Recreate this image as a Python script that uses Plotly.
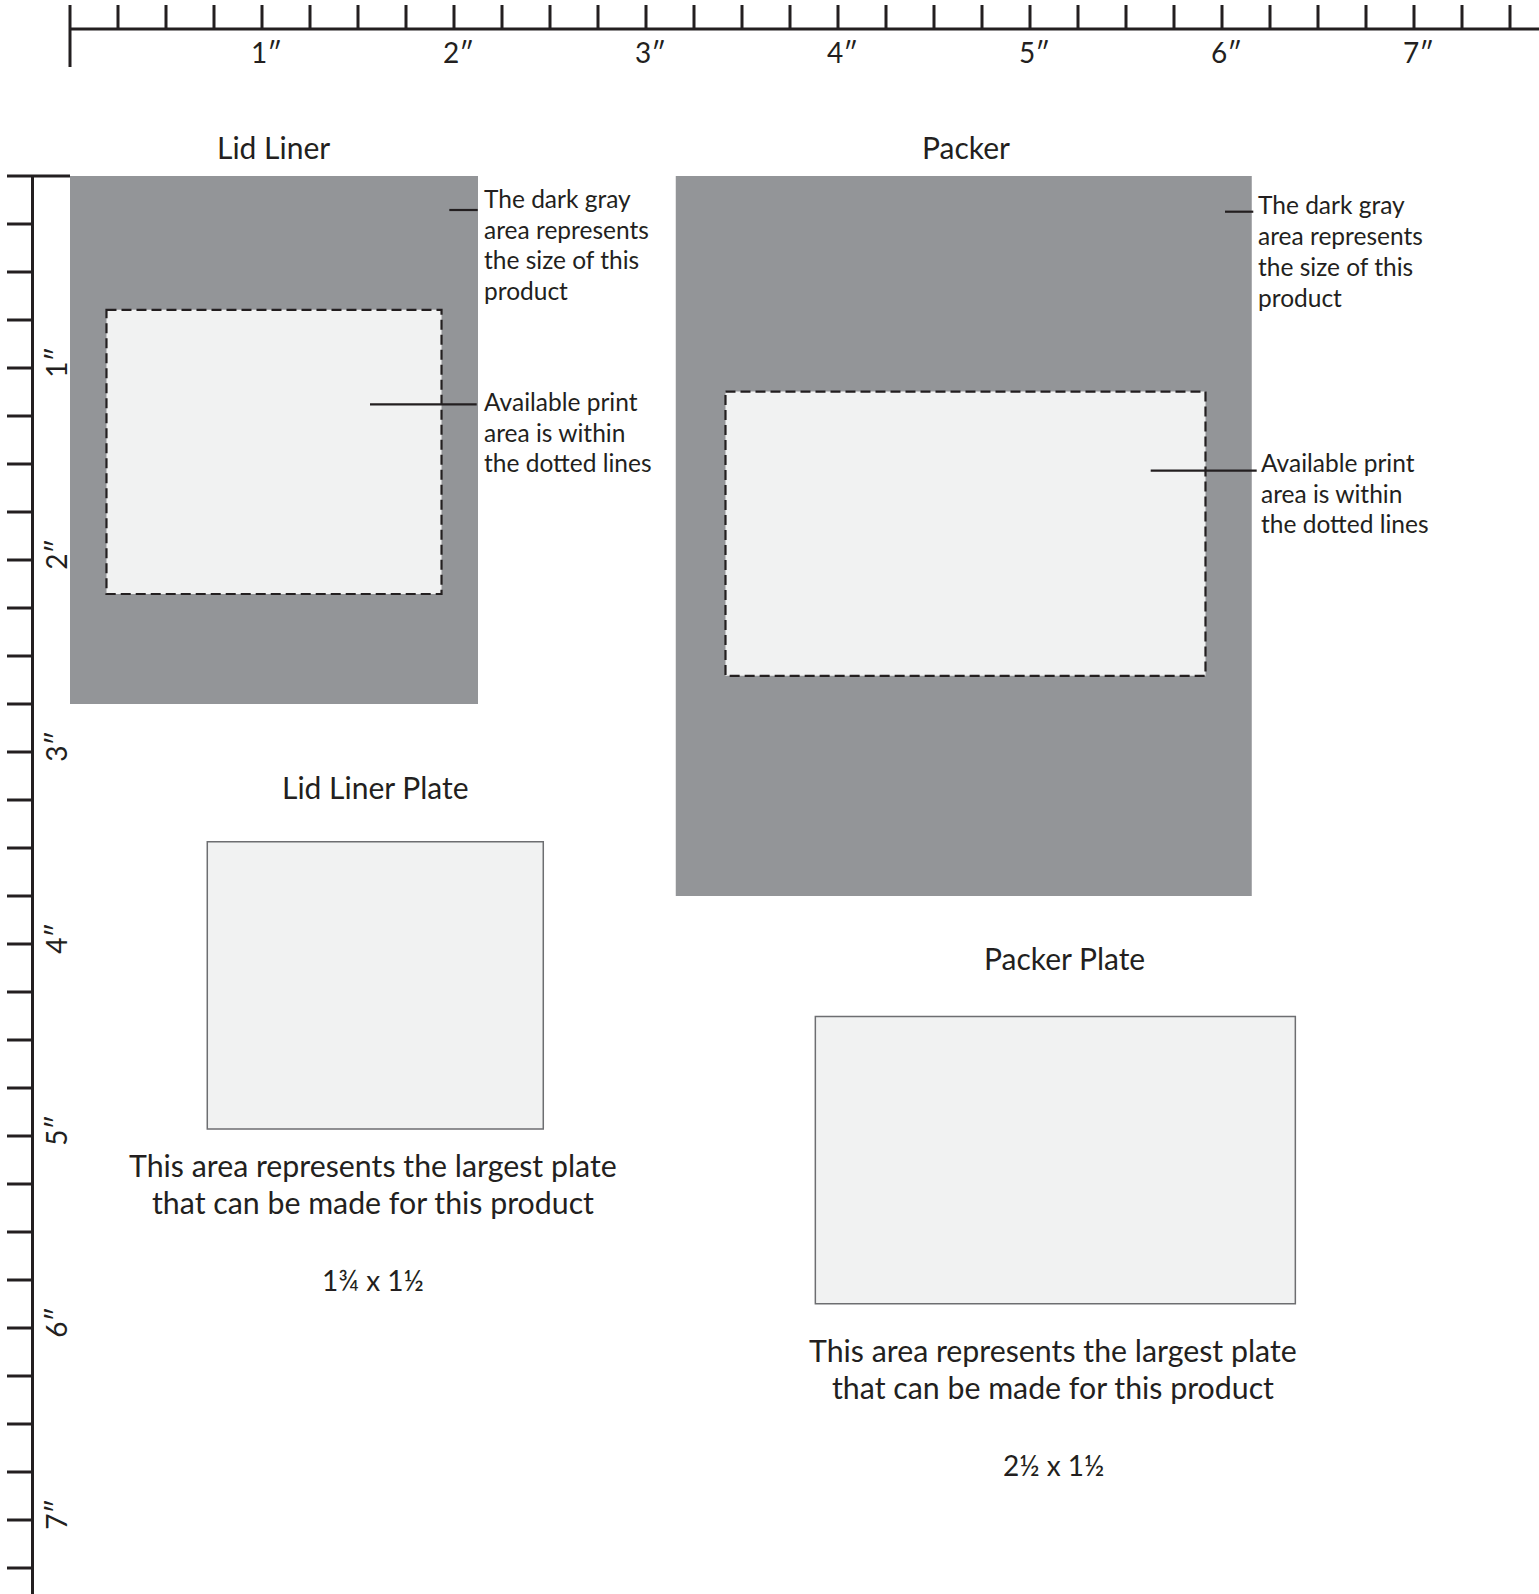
import plotly.graph_objects as go

# ---------------- data (all sizes in inches) ----------------
products = ["Lid Liner", "Packer"]
product_x = [0.0, 3.155]
product_y = [0.0, 0.0]
product_w = [2.125, 3.0]
product_h = [2.75, 3.75]

print_x = [0.19, 3.414]
print_y = [0.697, 1.123]
print_w = [1.745, 2.5]
print_h = [1.48, 1.48]

plate_names = ["Lid Liner Plate", "Packer Plate"]
plate_x = [0.715, 3.882]
plate_y = [3.467, 4.378]
plate_w = [1.75, 2.5]
plate_h = [1.496, 1.496]
plate_sizes = ["1¾ x 1½", "2½ x 1½"]

inch_values = [1, 2, 3, 4, 5, 6, 7]
inch_labels = ["1″", "2″", "3″", "4″", "5″", "6″", "7″"]
QUARTER = 0.25
top_ticks = [QUARTER * k for k in range(1, 31)]
left_ticks = [QUARTER * k for k in range(1, 30)]

size_note = ["The dark gray", "area represents", "the size of this", "product"]
print_note = ["Available print", "area is within", "the dotted lines"]
plate_note = ["This area represents the largest plate", "that can be made for this product"]

# ---------------- layout constants ----------------
W, H = 1539, 1594
PPI = 192.0
OX, OY = 70.0, 176.0


def X(px):
    return (px - OX) / PPI


def Y(px):
    return (px - OY) / PPI


INK = "#231f20"
DARK = "#939598"
LIGHT = "#f1f2f2"
FONT = "Lato"

fig = go.Figure()

# ---------------- rulers ----------------
tx, ty = [], []
for t in top_ticks:
    tx += [t, t, None]
    ty += [Y(5), Y(29), None]
tx += [0, X(W), None, 0, 0, None]
ty += [Y(29), Y(29), None, Y(5), Y(67), None]
for t in left_ticks:
    tx += [X(7), X(32.5), None]
    ty += [t, t, None]
tx += [X(32.5), X(32.5), None, X(7), 0, None]
ty += [0, Y(H), None, 0, 0, None]
fig.add_trace(go.Scatter(x=tx, y=ty, mode="lines",
                         line=dict(color=INK, width=3),
                         hoverinfo="skip", showlegend=False))

annotations = []
for v, lab in zip(inch_values, inch_labels):
    annotations.append(dict(x=v + 4 / PPI, y=Y(52.0), text=lab, showarrow=False,
                            xanchor="center", yanchor="middle",
                            font=dict(family=FONT, size=28, color=INK)))
    annotations.append(dict(x=X(55.7), y=v - 6 / PPI, text=lab, showarrow=False,
                            textangle=-90, xanchor="center", yanchor="middle",
                            font=dict(family=FONT, size=28, color=INK)))

# ---------------- product shapes ----------------
shapes = []
for i in range(len(products)):
    shapes.append(dict(type="rect", xref="x", yref="y",
                       x0=product_x[i], x1=product_x[i] + product_w[i],
                       y0=product_y[i], y1=product_y[i] + product_h[i],
                       fillcolor=DARK, line=dict(width=0), layer="above"))
    shapes.append(dict(type="rect", xref="x", yref="y",
                       x0=print_x[i], x1=print_x[i] + print_w[i],
                       y0=print_y[i], y1=print_y[i] + print_h[i],
                       fillcolor=LIGHT, line=dict(color=INK, width=2.2, dash="10px,5px"),
                       layer="above"))
    shapes.append(dict(type="rect", xref="x", yref="y",
                       x0=plate_x[i], x1=plate_x[i] + plate_w[i],
                       y0=plate_y[i], y1=plate_y[i] + plate_h[i],
                       fillcolor=LIGHT, line=dict(color="#6d6e71", width=1.5),
                       layer="above"))

# leader lines (pixel positions of the callouts)
leaders = [
    (449.3, 477.7, 210.0),
    (370.0, 476.7, 404.3),
    (1225.0, 1253.3, 211.7),
    (1150.7, 1256.7, 470.7),
]
for x0, x1, yy in leaders:
    shapes.append(dict(type="line", xref="x", yref="y",
                       x0=X(x0), x1=X(x1), y0=Y(yy), y1=Y(yy),
                       line=dict(color=INK, width=2.2), layer="above"))


def add_lines(lines, xpx, first_center, spacing, size, anchor):
    for k, line in enumerate(lines):
        annotations.append(dict(x=X(xpx), y=Y(first_center + k * spacing), text=line,
                                showarrow=False, xanchor=anchor, yanchor="middle",
                                font=dict(family=FONT, size=size, color=INK)))


title_pos = [(273, 147), (965.5, 147)]
for name, (xp, yp) in zip(products, title_pos):
    add_lines([name], xp, yp, 0, 30, "center")

plate_title_pos = [(375, 786.5), (1064, 958)]
for name, (xp, yp) in zip(plate_names, plate_title_pos):
    add_lines([name], xp, yp, 0, 30, "center")

add_lines(size_note, 482.0, 198.5, 30.7, 24.5, "left")
add_lines(print_note, 482.0, 401.5, 30.7, 24.5, "left")
add_lines(size_note, 1256.0, 204.0, 31.0, 24.5, "left")
add_lines(print_note, 1258.5, 462.5, 30.7, 24.5, "left")

plate_note_pos = [(373, 1165), (1053, 1350)]
for (xp, yp), sz in zip(plate_note_pos, plate_sizes):
    add_lines(plate_note, xp, yp, 37.4, 30.3, "center")
    add_lines([sz], xp, yp + 115, 0, 28, "center")

fig.update_layout(
    width=W, height=H, autosize=False,
    margin=dict(l=0, r=0, t=0, b=0, pad=0),
    paper_bgcolor="white", plot_bgcolor="white",
    xaxis=dict(range=[X(0), X(W)], visible=False, fixedrange=True),
    yaxis=dict(range=[Y(H), Y(0)], visible=False, fixedrange=True),
    shapes=shapes, annotations=annotations, showlegend=False,
)

fig.write_html("out.html", config={"displayModeBar": False},
               post_script="document.body.style.margin='0';document.body.style.overflow='hidden';")
